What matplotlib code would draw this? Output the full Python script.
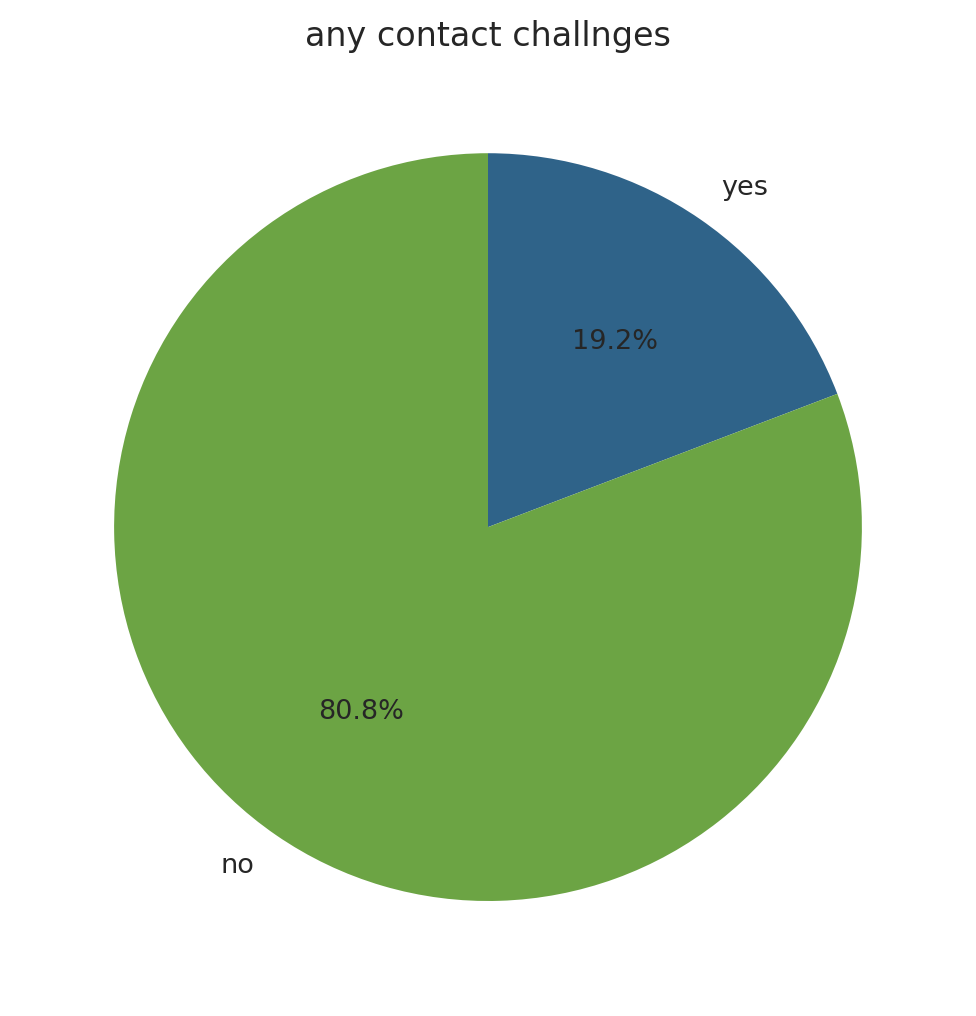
import matplotlib
matplotlib.use("Agg")
import matplotlib.pyplot as plt

# data
labels = ["yes", "no"]
shares = [19.2, 80.8]
colors = ["#2f6389", "#6ca444"]

text_color = "#262626"

fig = plt.figure(figsize=(976 / 150, 1016 / 150), dpi=150)
ax = fig.add_axes([0.021, 0.0212, 0.958, 0.920])
ax.pie(shares, labels=labels, colors=colors, autopct="%1.1f%%",
       startangle=90, counterclock=False,
       textprops={"fontsize": 13, "color": text_color})
ax.set_aspect("equal")
ax.set_title("any contact challnges", fontsize=16, color=text_color, pad=6.5)

fig.savefig("out.png", dpi=150)
